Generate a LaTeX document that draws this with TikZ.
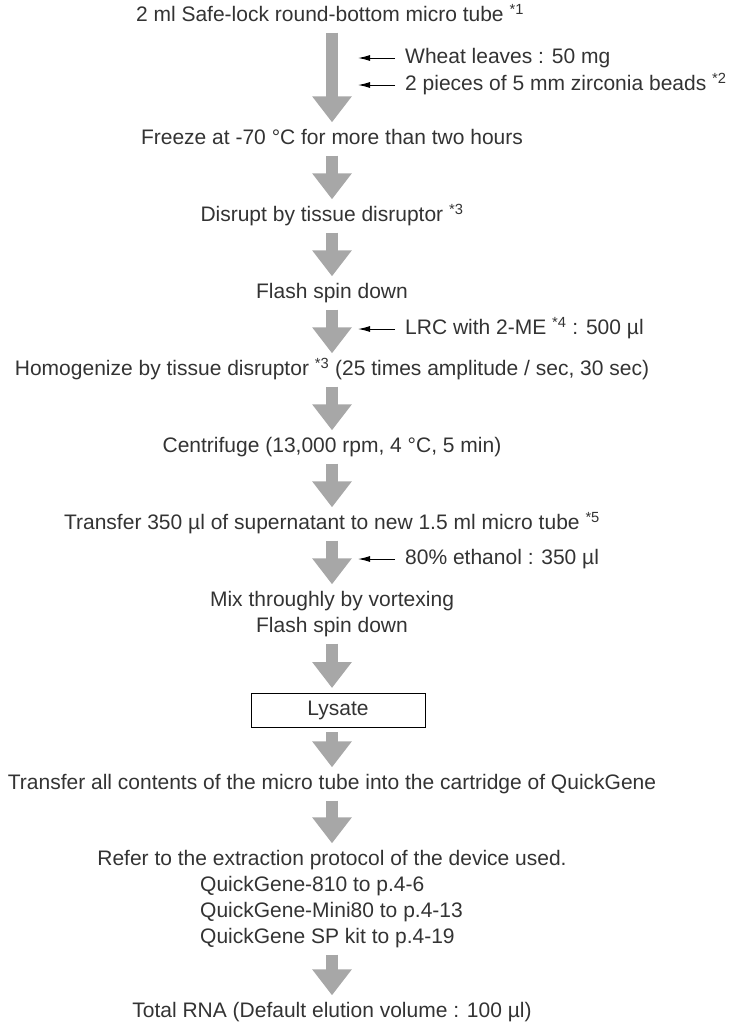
\documentclass[tikz,border=0pt]{standalone}
\usepackage{fontspec}
\setmainfont{Liberation Sans}
\usetikzlibrary{arrows.meta}
\definecolor{flowgray}{HTML}{A7A7A7}
\definecolor{inkgray}{HTML}{333333}

\begin{document}
\begin{tikzpicture}[x=1bp,y=-1bp]

\tikzstyle {stage}=[font=\fontsize{21bp}{25bp}\selectfont, text=inkgray,
     inner xsep=0pt, inner ysep=7bp, text height=15bp, text depth=4bp];

\tikzstyle {side}=[stage, inner ysep=0pt, anchor=west];

\tikzstyle {flow}=[draw=flowgray, line width=12bp,
     -{Triangle[width=38bp,length=26bp]}];

\tikzstyle {feed}=[draw=black, line width=1bp, -{Latex[length=12bp,width=6bp]}];

\useasboundingbox (0,0) rectangle (730,1032);

% Steps of the protocol
\draw (330,16) node [stage] (tube) {2 ml Safe-lock round-bottom micro tube \textsuperscript{*1}};
\draw (332,139) node [stage] (freeze) {Freeze at -70 °C for more than two hours};
\draw (332,216) node [stage] (disrupt) {Disrupt by tissue disruptor \textsuperscript{*3}};
\draw (332,293) node [stage] (spin) {Flash spin down};
\draw (332,370) node [stage] (homog) {Homogenize by tissue disruptor \textsuperscript{*3} (25 times amplitude / sec, 30 sec)};
\draw (332,447) node [stage] (centri) {Centrifuge (13,000 rpm, 4 °C, 5 min)};
\draw (332,524) node [stage] (super) {Transfer 350 µl of supernatant to new 1.5 ml micro tube \textsuperscript{*5}};
\draw (332,601) node [stage] (mix) {Mix throughly by vortexing};
\draw (332,627) node [stage] (spinb) {Flash spin down};
\draw (338,710) node [draw, line width=0.8bp, minimum width=174bp, minimum height=34bp,
                      outer sep=5bp, font=\fontsize{21bp}{25bp}\selectfont, text=inkgray]
            (lysate) {Lysate};
\draw (332,784) node [stage] (cart) {Transfer all contents of the micro tube into the cartridge of QuickGene};
\draw (332,860) node [stage] (refer) {Refer to the extraction protocol of the device used.};
\draw (200,886) node [side] (qga) {QuickGene-810 to p.4-6};
\draw (200,912) node [side] (qgb) {QuickGene-Mini80 to p.4-13};
\draw (200,938) node [side, inner ysep=7bp] (qgc) {QuickGene SP kit to p.4-19};
\draw (332,1012) node [stage] (rna) {Total RNA (Default elution volume : 100 µl)};

% Main flow
\draw [flow] (tube.south -| freeze) -- (freeze.north);
\draw [flow] (freeze.south) -- (disrupt.north);
\draw [flow] (disrupt.south) -- (spin.north);
\draw [flow] (spin.south) -- (homog.north);
\draw [flow] (homog.south) -- (centri.north);
\draw [flow] (centri.south) -- (super.north);
\draw [flow] (super.south) -- (mix.north);
\draw [flow] (spinb.south) -- (spinb.south |- lysate.north);
\draw [flow] (spinb.south |- lysate.south) -- (cart.north);
\draw [flow] (cart.south) -- (refer.north);
\draw [flow] (qgc.south -| rna) -- (rna.north);

% Added reagents
\draw (405,58) node [side] (wheat) {Wheat leaves : 50 mg};
\draw (405,85) node [side] (beads) {2 pieces of 5 mm zirconia beads \textsuperscript{*2}};
\draw (405,329) node [side] (lrc) {LRC with 2-ME \textsuperscript{*4} : 500 µl};
\draw (405,559) node [side] (ethanol) {80\% ethanol : 350 µl};

\coordinate (wheatin) at (358,58);
\coordinate (beadsin) at (358,85);
\coordinate (lrcin) at (358,329);
\coordinate (ethanolin) at (358,559);

\draw [feed] ([xshift=-10bp]wheat.west) -- (wheatin);
\draw [feed] ([xshift=-10bp]beads.west) -- (beadsin);
\draw [feed] ([xshift=-10bp]lrc.west) -- (lrcin);
\draw [feed] ([xshift=-10bp]ethanol.west) -- (ethanolin);
\end{tikzpicture}
\end{document}
